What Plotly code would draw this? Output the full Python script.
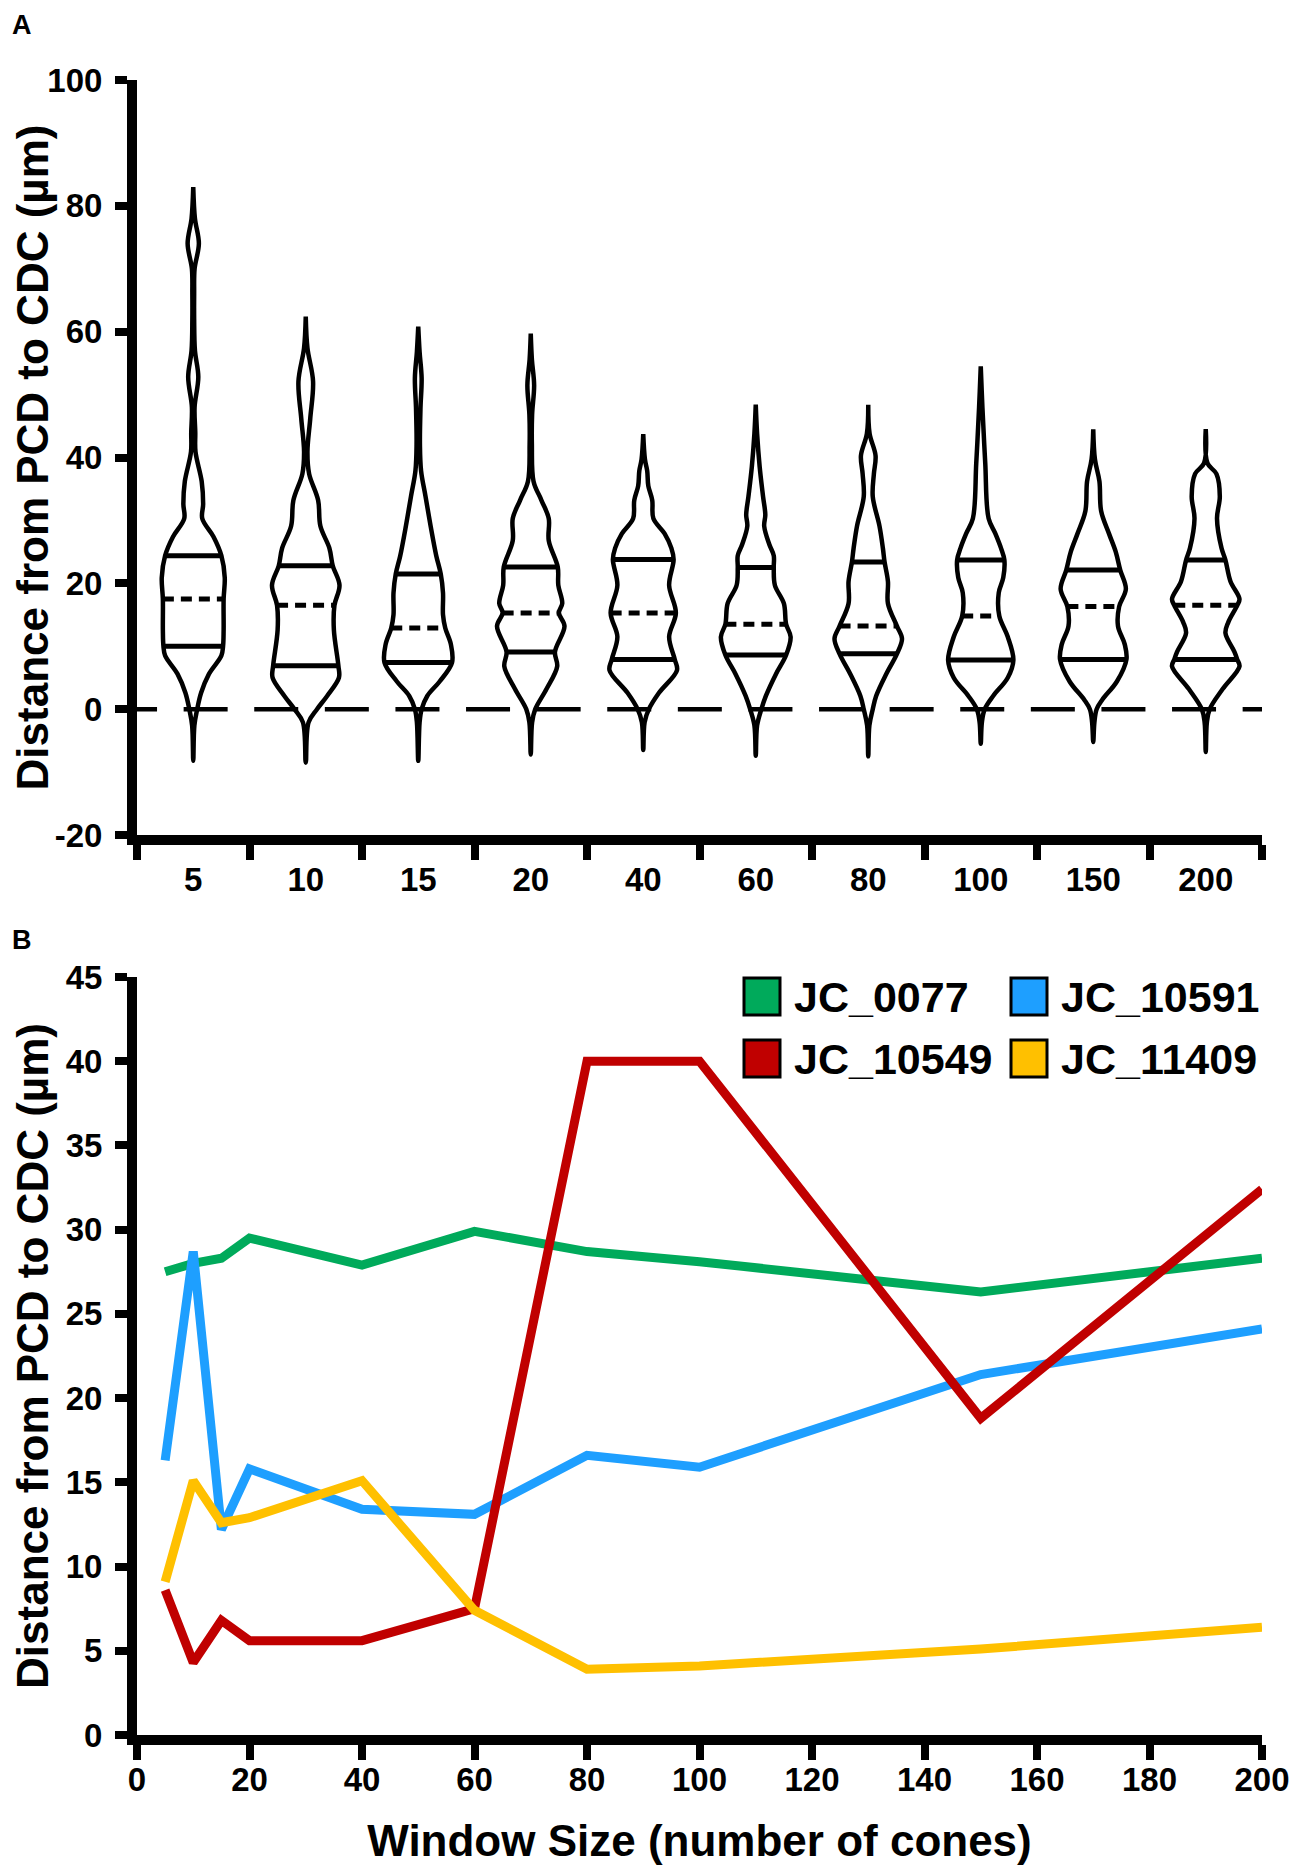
import plotly.graph_objects as go

# ---- panel A: violin outlines ----
# each profile: (distance in um, half width in category units), bottom to top
window_sizes = ['5', '10', '15', '20', '40', '60', '80', '100', '150', '200']

prof_5 = [(-8.2, 0), (-2.6, 0.01), (0, 0.035), (2.6, 0.07), (5.6, 0.14), (8.5, 0.25),
          (10.0, 0.265), (12.6, 0.27), (17.5, 0.27), (20.9, 0.28), (24.4, 0.25), (27.4, 0.18),
          (30.3, 0.08), (32.6, 0.088), (36.2, 0.075), (40.9, 0.02), (44, 0.018), (48, 0.012),
          (52.8, 0.045), (57, 0.015), (62, 0.008), (66, 0.008), (70, 0.012), (74, 0.05),
          (78, 0.015), (83, 0)]
prof_10 = [(-8.5, 0), (-2.1, 0.025), (0, 0.1), (2.1, 0.19), (5.0, 0.295), (6.9, 0.29),
           (12.6, 0.25), (16.5, 0.255), (19.7, 0.30), (22.8, 0.24), (25.6, 0.21), (29.1, 0.13),
           (33.2, 0.11), (37.4, 0.03), (40.9, 0.015), (46.2, 0.04), (52.1, 0.065),
           (57.4, 0.015), (62.4, 0)]
prof_15 = [(-8.2, 0), (-2.1, 0.012), (0, 0.03), (2.1, 0.08), (4.4, 0.19), (7.4, 0.30),
           (10.3, 0.29), (12.9, 0.24), (15.0, 0.22), (18.5, 0.22), (21.5, 0.20), (24.4, 0.16),
           (29.1, 0.11), (33.8, 0.065), (37.9, 0.025), (42.1, 0.015), (47.9, 0.02),
           (52.6, 0.03), (56.8, 0.012), (60.8, 0)]
prof_20 = [(-7.2, 0), (-2.1, 0.012), (0, 0.04), (3.2, 0.14), (6.8, 0.235), (9.1, 0.215),
           (13.2, 0.30), (15.3, 0.25), (16.8, 0.28), (19.7, 0.245), (22.6, 0.24), (26.8, 0.16),
           (30.3, 0.16), (33.2, 0.095), (36.2, 0.025), (42.1, 0.01), (46.8, 0.012),
           (51.5, 0.03), (55.6, 0.01), (59.7, 0)]
prof_40 = [(-6.5, 0), (-2.1, 0.012), (0, 0.05), (2.6, 0.14), (6.2, 0.30), (7.9, 0.28),
           (11.5, 0.23), (15.3, 0.29), (19.7, 0.23), (23.8, 0.27), (25.6, 0.25), (27.9, 0.19),
           (30.3, 0.09), (33.2, 0.08), (35.5, 0.045), (37.9, 0.035), (39.7, 0.015), (43.7, 0)]
prof_60 = [(-7.4, 0), (-2.6, 0.012), (0, 0.05), (2.1, 0.09), (5.6, 0.18), (8.6, 0.27),
           (11.5, 0.31), (13.5, 0.27), (16.8, 0.25), (19.7, 0.17), (22.5, 0.16), (24.4, 0.16),
           (26.2, 0.12), (29.1, 0.075), (30.9, 0.085), (33.8, 0.065), (38.5, 0.035),
           (43.8, 0.012), (48.4, 0)]
prof_80 = [(-7.5, 0), (-2.6, 0.01), (0, 0.04), (2.1, 0.07), (5.6, 0.16), (8.8, 0.255),
           (11.2, 0.30), (13.2, 0.255), (16.8, 0.175), (20.3, 0.175), (23.4, 0.145),
           (25.6, 0.13), (29.1, 0.10), (33.8, 0.04), (37.4, 0.05), (40.3, 0.065),
           (43.8, 0.012), (48.4, 0)]
prof_100 = [(-5.5, 0), (-2.1, 0.01), (0, 0.035), (2.1, 0.11), (5.0, 0.24), (7.8, 0.29),
            (11.5, 0.24), (14.8, 0.165), (18.5, 0.16), (20.9, 0.2), (23.7, 0.21), (25.6, 0.18),
            (27.9, 0.13), (30.3, 0.07), (39.1, 0.04), (47.9, 0.015), (54.5, 0)]
prof_150 = [(-5.2, 0), (-2.1, 0.01), (0, 0.03), (1.5, 0.08), (4.4, 0.21), (7.9, 0.295),
            (10.3, 0.28), (13.2, 0.22), (16.3, 0.23), (19.1, 0.29), (22.1, 0.24), (25.0, 0.2),
            (27.9, 0.14), (31.5, 0.07), (36.2, 0.055), (39.7, 0.015), (44.5, 0)]
prof_200 = [(-6.8, 0), (-2.1, 0.01), (0, 0.035), (3.2, 0.15), (6.8, 0.30), (7.9, 0.28),
            (9.1, 0.255), (12.1, 0.175), (13.8, 0.2), (16.5, 0.28), (17.5, 0.3), (20.3, 0.22),
            (23.7, 0.175), (25.6, 0.14), (30.3, 0.10), (33.8, 0.125), (37.4, 0.095),
            (39.1, 0.015), (44.5, 0)]

q1 = [10.0, 6.9, 7.4, 9.1, 7.9, 8.6, 8.8, 7.8, 7.9, 7.9]
median = [17.5, 16.5, 12.9, 15.3, 15.3, 13.5, 13.2, 14.8, 16.3, 16.5]
q3 = [24.4, 22.8, 21.5, 22.6, 23.8, 22.5, 23.4, 23.7, 22.1, 23.7]

a_ticks = [-20, 0, 20, 40, 60, 80, 100]
a_ticktext = ['-20', '0', '20', '40', '60', '80', '100']

# ---- panel B ----
win_x = [5, 10, 15, 20, 40, 60, 80, 100, 150, 200]
jc_0077 = [27.5, 28.0, 28.3, 29.5, 27.9, 29.9, 28.7, 28.1, 26.3, 28.3]
jc_10591 = [16.3, 28.7, 12.2, 15.8, 13.4, 13.1, 16.6, 15.9, 21.4, 24.1]
jc_10549 = [8.6, 4.3, 6.8, 5.6, 5.6, 7.5, 40.0, 40.0, 18.8, 32.4]
jc_11409 = [9.1, 15.1, 12.6, 12.9, 15.1, 7.4, 3.9, 4.1, 5.1, 6.4]

series = [('JC_0077', jc_0077, '#00AA5B'), ('JC_10591', jc_10591, '#1E9FFF'),
          ('JC_10549', jc_10549, '#C00000'), ('JC_11409', jc_11409, '#FFC000')]

FONT = 'Liberation Sans, Arial, sans-serif'
OFF = 8  # the page body adds an 8px margin round the figure
W, H = 1299 - 2 * OFF, 1873 - 2 * OFF
L, T = 137 - OFF, 80 - OFF
R, B = W - (1262 - OFF), H - (1735 - OFF)
PW, PH = W - L - R, H - T - B


def px(x):
    return (x - OFF - L) / PW


def py(y):
    return (H - B - (y - OFF)) / PH


fig = go.Figure()

# dashed zero line
fig.add_trace(go.Scatter(x=[-0.713, 9.56], y=[0, 0], mode='lines',
                         line=dict(color='black', width=4.5, dash='44px,26.6px'),
                         xaxis='x', yaxis='y', hoverinfo='skip'))

profiles = [prof_5, prof_10, prof_15, prof_20, prof_40,
            prof_60, prof_80, prof_100, prof_150, prof_200]
for i, prof in enumerate(profiles):
    xs = [i + w for v, w in prof] + [i - w for v, w in reversed(prof)]
    ys = [v for v, w in prof] + [v for v, w in reversed(prof)]
    fig.add_trace(go.Scatter(x=xs, y=ys, mode='lines',
                             line=dict(color='black', width=4.5, shape='spline', smoothing=1),
                             xaxis='x', yaxis='y', hoverinfo='skip'))
    widths = dict(prof)
    for q, dash in ((q1[i], 'solid'), (q3[i], 'solid'), (median[i], '11px,7px')):
        hw = widths[q]
        fig.add_trace(go.Scatter(x=[i - hw, i + hw], y=[q, q], mode='lines',
                                 line=dict(color='black', width=5, dash=dash),
                                 xaxis='x', yaxis='y', hoverinfo='skip'))

for name, vals, col in series:
    fig.add_trace(go.Scatter(x=win_x, y=vals, mode='lines', name=name,
                             line=dict(color=col, width=9),
                             xaxis='x2', yaxis='y2'))

tickfont = dict(family=FONT, size=33, color='black', weight='bold')
titlefont = dict(family=FONT, size=44, color='black', weight='bold')
ytitle = 'Distance from PCD to CDC (µm)'
axis_common = dict(showline=True, linewidth=10, linecolor='black', showgrid=False,
                   zeroline=False, tickfont=tickfont, ticks='outside', tickwidth=8,
                   tickcolor='black', automargin=False)
xcommon = dict(axis_common, ticklen=15, ticklabelstandoff=-9)
ycommon = dict(axis_common, ticklen=12, ticklabelstandoff=6)

fig.update_layout(
    width=W, height=H,
    margin=dict(l=L, r=R, t=T, b=B),
    paper_bgcolor='white', plot_bgcolor='white',
    showlegend=False,
    xaxis=dict(xcommon, domain=[0, 1], anchor='y', range=[-0.5, 9.5],
               tickmode='array', tickvals=list(range(10)), ticktext=window_sizes,
               tickcolor='rgba(0,0,0,0)',
               minor=dict(tickmode='array', tickvals=[k - 0.5 for k in range(11)],
                          ticks='outside', ticklen=15, tickwidth=8, tickcolor='black')),
    yaxis=dict(ycommon, domain=[py(835), 1], anchor='x', range=[-20, 100],
               tickmode='array', tickvals=a_ticks, ticktext=a_ticktext,
               title=dict(text=ytitle, font=titlefont, standoff=14)),
    xaxis2=dict(xcommon, domain=[0, 1], anchor='y2', range=[0, 200], dtick=20,
                title=dict(text='Window Size (number of cones)', font=titlefont, standoff=45)),
    yaxis2=dict(ycommon, domain=[0, py(977)], anchor='x2', range=[0, 45], dtick=5,
                title=dict(text=ytitle, font=titlefont, standoff=14)),
)

# legend of panel B: coloured boxes and labels
legend_pos = [('JC_0077', '#00AA5B', 744, 978), ('JC_10591', '#1E9FFF', 1011, 978),
              ('JC_10549', '#C00000', 744, 1040), ('JC_11409', '#FFC000', 1011, 1040)]
for name, col, x0, y0 in legend_pos:
    fig.add_shape(type='rect', xref='paper', yref='paper',
                  x0=px(x0), x1=px(x0 + 36), y0=py(y0), y1=py(y0 + 37),
                  fillcolor=col, line=dict(color='black', width=3))
    fig.add_annotation(text=name, xref='paper', yref='paper', x=px(x0 + 48), y=py(y0 + 19),
                       xanchor='left', yanchor='middle', showarrow=False,
                       font=dict(family=FONT, size=43, color='black', weight='bold'))

for lab, x0, y0 in (('A', 10, OFF), ('B', 10, 923)):
    fig.add_annotation(text=lab, xref='paper', yref='paper', x=px(x0), y=py(y0),
                       xanchor='left', yanchor='top', showarrow=False,
                       font=dict(family=FONT, size=27, color='black', weight='bold'))

fig.write_html('out.html')
